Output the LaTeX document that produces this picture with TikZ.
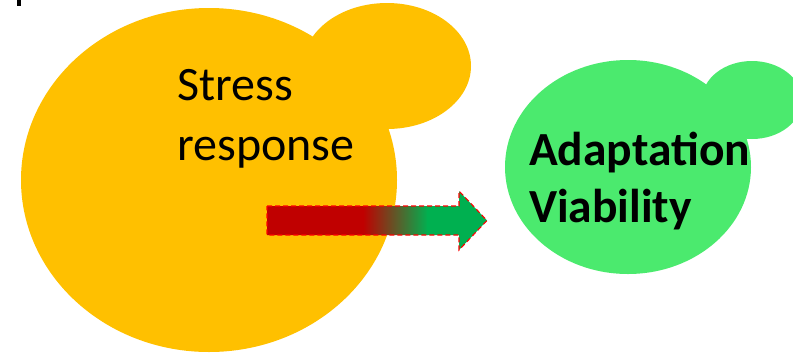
\documentclass[tikz,border=0pt]{standalone}
\usepackage{fontspec}
\setmainfont{Carlito}
\definecolor{cellorange}{RGB}{255,192,0}
\definecolor{cellgreen}{RGB}{75,234,110}
\definecolor{arrred}{RGB}{192,0,0}
\definecolor{arrgreen}{RGB}{0,176,80}
\definecolor{dashred}{RGB}{255,0,0}
\tikzset{
  orangecell/.style={fill=cellorange, draw=none},
  greencell/.style={fill=cellgreen, draw=none},
  lbl/.style={anchor=base west, inner sep=0pt, text=black},
  arrowline/.style={draw=dashred, line width=1.1pt, dash pattern=on 5pt off 3pt},
}
\begin{document}
\begin{tikzpicture}[x=1pt,y=-1pt]
\useasboundingbox (0,0) rectangle (793,357);
% stray mark top left
\fill[black] (17,0) rectangle (21,6);
% orange cell with bud
\fill[orangecell] (209,180) ellipse [x radius=188, y radius=172];
\fill[orangecell] (387,66) ellipse [x radius=84, y radius=63];
% green cell with bud
\fill[greencell] (628,167) ellipse [x radius=123, y radius=107];
\fill[greencell] (752,100) ellipse [x radius=50, y radius=39];
% labels
\node[lbl, font=\fontsize{48}{56}\selectfont] (stress1) at (177,100) {Stress};
\node[lbl, font=\fontsize{48}{56}\selectfont] (stress2) at (177,160) {response};
\node[lbl, font=\fontsize{47.5}{56}\selectfont\bfseries] (adapt) at (529,165) {Adaptation};
\node[lbl, font=\fontsize{47.5}{56}\selectfont\bfseries] (viab) at (529,222) {Viability};
% arrow
\coordinate (a1) at (267,206);
\coordinate (a2) at (459,206);
\coordinate (a3) at (459,191);
\coordinate (a4) at (487,220.5);
\coordinate (a5) at (459,250);
\coordinate (a6) at (459,235);
\coordinate (a7) at (267,235);
\begin{scope}
  \clip (a1) -- (a2) -- (a3) -- (a4) -- (a5) -- (a6) -- (a7) -- cycle;
  \fill[arrred] (260,185) rectangle (364,255);
  \shade[left color=arrred, right color=arrgreen] (363,185) rectangle (428,255);
  \fill[arrgreen] (427,185) rectangle (495,255);
\end{scope}
\draw[arrowline] (a1) -- (a2) -- (a3) -- (a4) -- (a5) -- (a6) -- (a7) -- cycle;
\end{tikzpicture}
\end{document}
